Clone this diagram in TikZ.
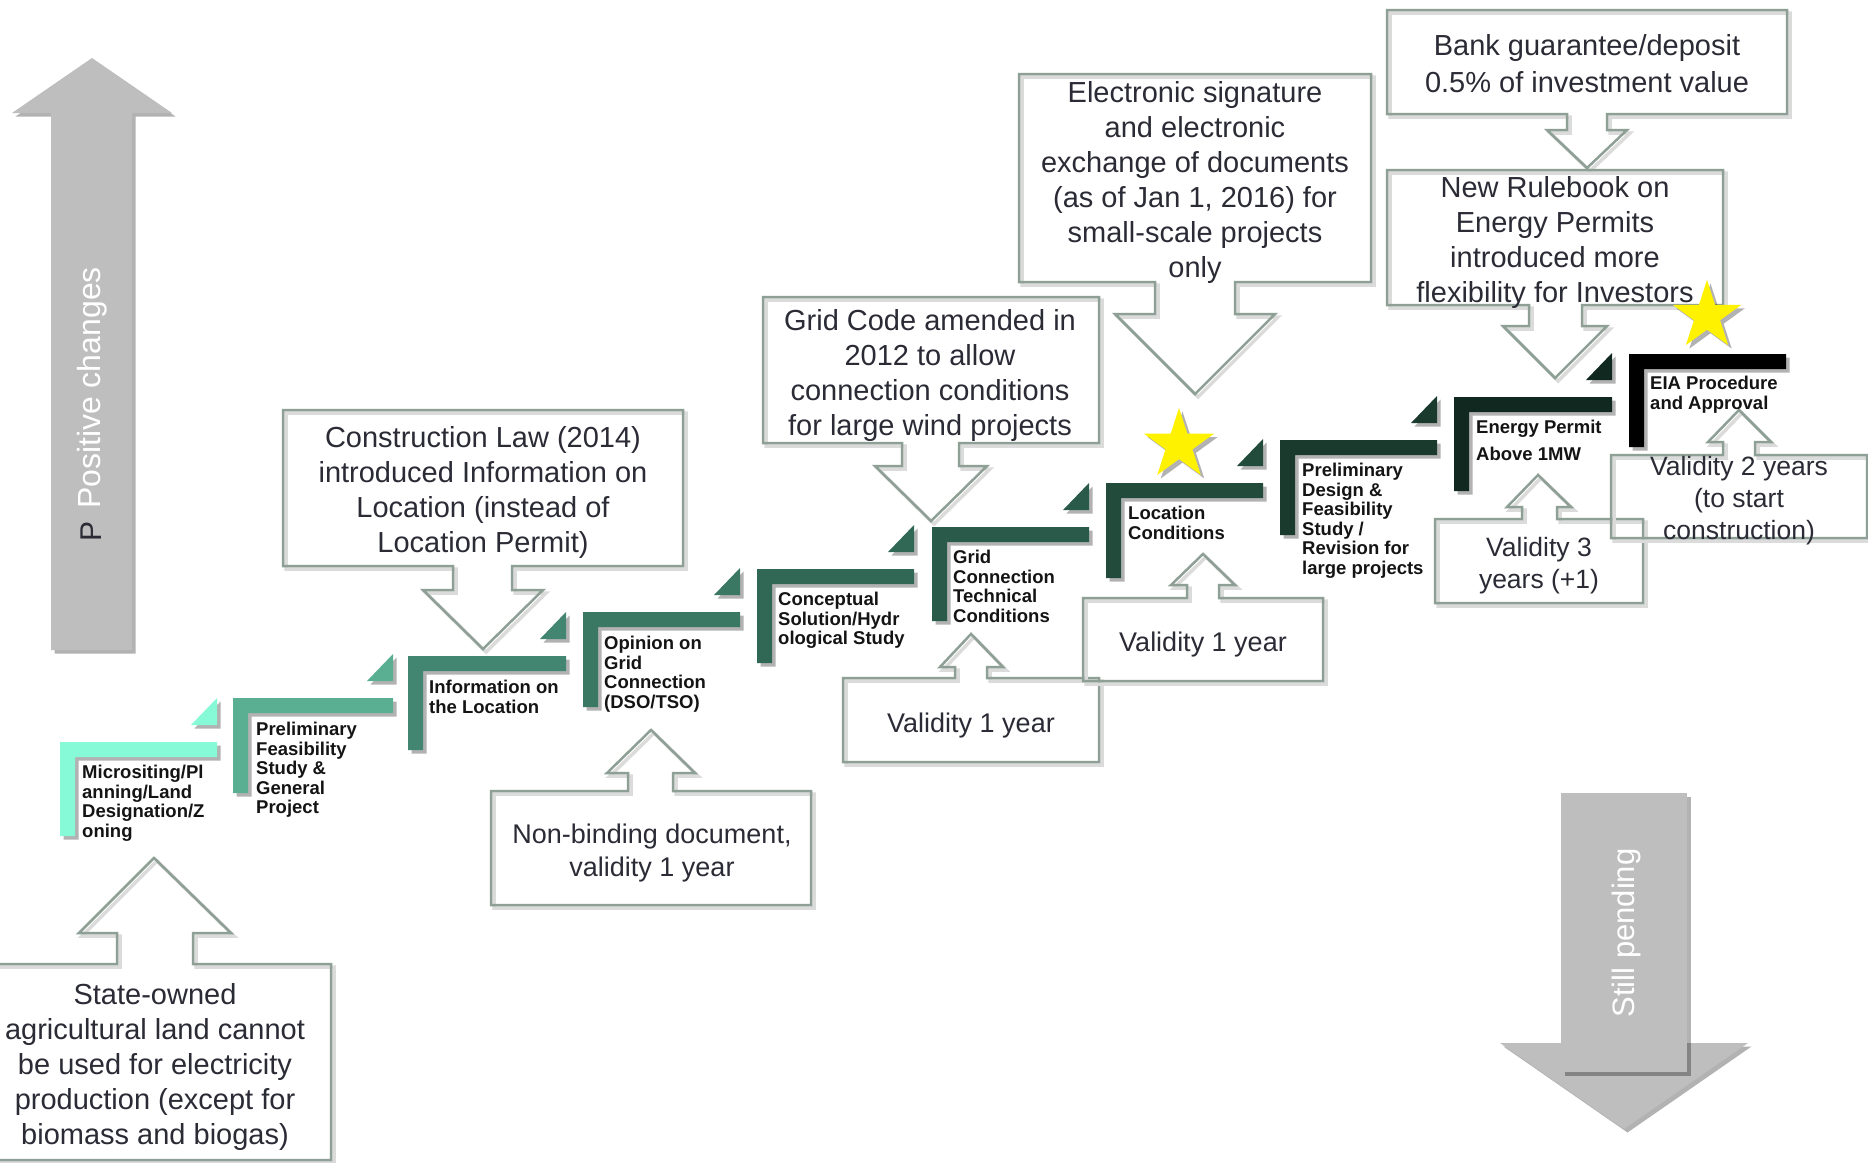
\documentclass[tikz,border=0pt]{standalone}
\usepackage{fontspec}
\setmainfont{Liberation Sans}
\usetikzlibrary{shadows,shapes.geometric}
\definecolor{outl}{HTML}{8E9F95}
\definecolor{txtc}{HTML}{2A2B35}
\definecolor{agray}{HTML}{BEBEBE}
\definecolor{sa}{HTML}{86F9D6}
\definecolor{sb}{HTML}{5AAF93}
\definecolor{sc}{HTML}{428571}
\definecolor{sd}{HTML}{3A7863}
\definecolor{se}{HTML}{316855}
\definecolor{sf}{HTML}{2A5B4A}
\definecolor{sg}{HTML}{224B3C}
\definecolor{sh}{HTML}{1A3A2E}
\definecolor{si}{HTML}{112820}
\definecolor{sj}{HTML}{000000}
\begin{document}
\begin{tikzpicture}[x=1pt,y=-1pt,
  callout/.style={draw=outl, line width=2.5pt, line join=miter,
    preaction={draw=black!14, line width=3.5pt, transform canvas={xshift=3pt,yshift=-3pt}}},
  ctext/.style={text=txtc, align=center, inner sep=0pt},
  cbig/.style={ctext, font=\fontsize{29}{35}\selectfont},
  cmid/.style={ctext, font=\fontsize{27}{33}\selectfont},
  csmall/.style={ctext, font=\fontsize{26.5}{32}\selectfont},
  stext/.style={font=\bfseries\fontsize{18.5}{19.5}\selectfont, text=black!92, align=left, inner sep=0pt, anchor=north west},
  softshadow/.style={drop shadow={shadow xshift=3.5pt, shadow yshift=-3.5pt, opacity=0.3, fill=black}},
  arrowtext/.style={rotate=90, inner sep=0pt}
]
\fill[white] (0,0) rectangle (1868,1162);
\useasboundingbox (0,0) rectangle (1868,1162);

% Positive changes arrow
\fill[agray, softshadow] (51,650) -- (51,113) -- (12,113) -- (92,58) -- (172,113) -- (132,113) -- (132,650) -- cycle;
\node[arrowtext, text=white, font=\fontsize{32}{38}\selectfont] (pos) at (92,388) {Positive changes};
\node[arrowtext, text=txtc, font=\fontsize{30}{36}\selectfont] (posp) at (91,531) {P};

% Still pending arrow
\fill[agray, softshadow] (1500,1043) -- (1748,1043) -- (1624,1129) -- cycle;
\fill[agray, softshadow] (1561,793) rectangle (1687,1072);
\node[arrowtext, text=white, font=\fontsize{31}{36}\selectfont] (pend) at (1626,933) {Still pending};

% callouts
\draw[callout] (-5,1160) -- (-5,964) -- (117,964) -- (117,933) -- (79,933) -- (154,858) -- (231,933) -- (193,933) -- (193,964) -- (331,964) -- (331,1160) -- cycle;
\draw[callout] (283,410) -- (683,410) -- (683,566) -- (512,566) -- (512,590) -- (543,590) -- (483,649) -- (423,590) -- (453,590) -- (453,566) -- (283,566) -- cycle;
\draw[callout] (491,905) -- (491,791) -- (628,791) -- (628,773) -- (607,773) -- (651,730) -- (695,773) -- (673,773) -- (673,791) -- (811,791) -- (811,905) -- cycle;
\draw[callout] (763,297) -- (1099,297) -- (1099,443) -- (959,443) -- (959,466) -- (987,466) -- (931,521) -- (875,466) -- (902,466) -- (902,443) -- (763,443) -- cycle;
\draw[callout] (843,762) -- (843,678) -- (955,678) -- (955,667) -- (940,667) -- (971,634) -- (1003,667) -- (987,667) -- (987,678) -- (1099,678) -- (1099,762) -- cycle;
\draw[callout] (1019,74) -- (1371,74) -- (1371,282) -- (1235,282) -- (1235,314) -- (1275,314) -- (1195,394) -- (1115,314) -- (1155,314) -- (1155,282) -- (1019,282) -- cycle;
\draw[callout] (1083,681) -- (1083,598) -- (1187,598) -- (1187,585) -- (1171,585) -- (1203,554) -- (1235,585) -- (1219,585) -- (1219,598) -- (1323,598) -- (1323,681) -- cycle;
\draw[callout] (1387,10) -- (1787,10) -- (1787,114) -- (1607,114) -- (1607,130) -- (1627,130) -- (1587,168) -- (1547,130) -- (1567,130) -- (1567,114) -- (1387,114) -- cycle;
\draw[callout] (1387,170) -- (1723,170) -- (1723,305) -- (1582,305) -- (1582,326) -- (1607,326) -- (1555,378) -- (1503,326) -- (1529,326) -- (1529,305) -- (1387,305) -- cycle;
\draw[callout] (1435,603) -- (1435,519) -- (1522,519) -- (1522,507) -- (1507,507) -- (1538,475) -- (1571,507) -- (1557,507) -- (1557,519) -- (1643,519) -- (1643,603) -- cycle;
\draw[callout] (1611,538) -- (1611,455) -- (1723,455) -- (1723,442) -- (1708,442) -- (1739,410) -- (1771,442) -- (1755,442) -- (1755,455) -- (1867,455) -- (1867,538) -- cycle;

% steps
\foreach \xa/\xb/\ya/\yb/\cl/\tr in {60/217/742/836/sa/1, 233/393/698/793/sb/1, 408/566/656/750/sc/1, 583/740/612/707/sd/1, 757/914/569/663/se/1, 932/1089/527/621/sf/1, 1106/1263/483/578/sg/1, 1280/1437/440/535/sh/1, 1454/1612/397/491/si/1, 1629/1786/354/447/sj/0} {
  \fill[\cl, softshadow] (\xa,\ya) -- (\xb,\ya) -- (\xb,\ya+15) -- (\xa+15,\ya+15) -- (\xa+15,\yb) -- (\xa,\yb) -- cycle;
  \ifnum\tr=1 \fill[\cl, softshadow] (\xb-26,\ya-17) -- (\xb,\ya-44) -- (\xb,\ya-17) -- cycle; \fi
}

% step texts
\node[stext] (st1) at (82,765) {Micrositing/Pl\\anning/Land\\Designation/Z\\oning};
\node[stext] (st2) at (256,722) {Preliminary\\Feasibility\\Study \&\\General\\Project};
\node[stext] (st3) at (429,680) {Information on\\the Location};
\node[stext] (st4) at (604,636) {Opinion on\\Grid\\Connection\\(DSO/TSO)};
\node[stext] (st5) at (778,592) {Conceptual\\Solution/Hydr\\ological Study};
\node[stext] (st6) at (953,550) {Grid\\Connection\\Technical\\Conditions};
\node[stext] (st7) at (1128,506) {Location\\Conditions};
\node[stext] (st8) at (1302,463) {Preliminary\\Design \&\\Feasibility\\Study /\\Revision for\\large projects};
\node[stext, font=\bfseries\fontsize{18.5}{27}\selectfont] (st9) at (1476,420) {Energy Permit\\Above 1MW};
\node[stext, font=\bfseries\fontsize{18.5}{20}\selectfont] (st10) at (1650,376) {EIA Procedure\\and Approval};

% callout texts
\node[cbig] (ta) at (155,1067) {State-owned\\agricultural land cannot\\be used for electricity\\production (except for\\biomass and biogas)};
\node[cbig] (tb) at (483,492) {Construction Law (2014)\\introduced Information on\\Location (instead of\\Location Permit)};
\node[cmid] (tc) at (652,853) {Non-binding document,\\validity 1 year};
\node[cbig] (td) at (930,375) {Grid Code amended in\\2012 to allow\\connection conditions\\for large wind projects};
\node[cmid] (te) at (971,726) {Validity 1 year};
\node[cbig] (tf) at (1195,182) {Electronic signature\\and electronic\\exchange of documents\\(as of Jan 1, 2016) for\\small-scale projects\\only};
\node[cmid] (tg) at (1203,645) {Validity 1 year};
\node[ctext, font=\fontsize{29}{37}\selectfont] (th) at (1587,64) {Bank guarantee/deposit\\0.5\% of investment value};
\node[cbig] (ti) at (1555,242) {New Rulebook on\\Energy Permits\\introduced more\\flexibility for Investors};
\node[csmall] (tj) at (1539,566) {Validity 3\\years (+1)};
\node[csmall] (tk) at (1739,501) {Validity 2 years\\(to start\\construction)};

% stars
\node[star, star points=5, star point ratio=2.618, fill=yellow, inner sep=0pt, minimum size=74pt, softshadow] (star1) at (1179,445) {};
\node[star, star points=5, star point ratio=2.618, fill=yellow, inner sep=0pt, minimum size=72pt, softshadow] (star2) at (1707,316) {};
\end{tikzpicture}
\end{document}
